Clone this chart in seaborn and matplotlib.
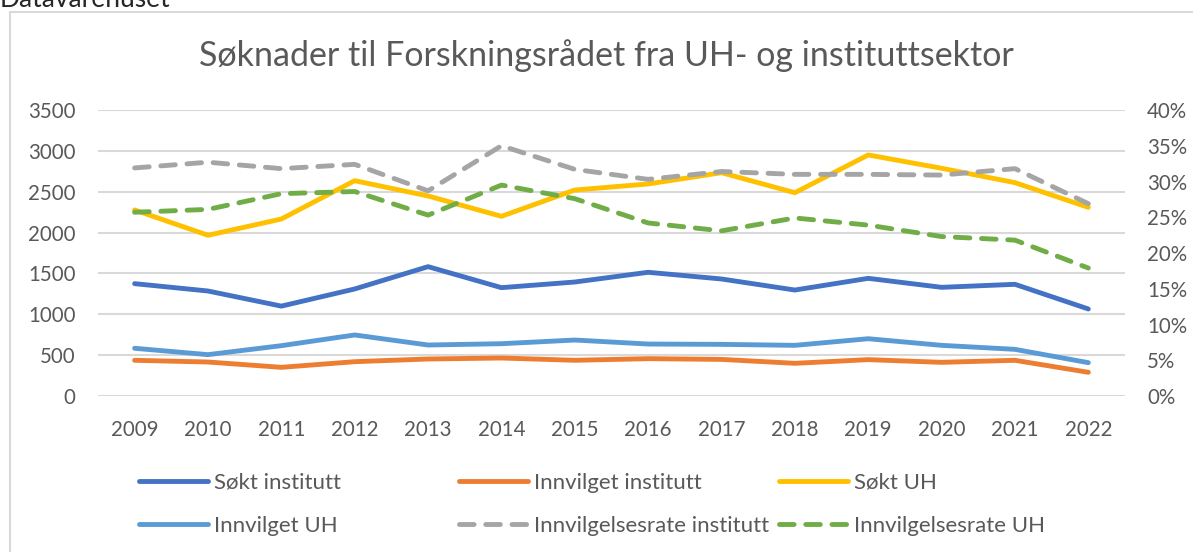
import matplotlib
matplotlib.use("Agg")
import matplotlib.pyplot as plt
import matplotlib.ticker as mticker
from matplotlib.lines import Line2D
import seaborn as sns

# Data lest av figuren
years = [2009, 2010, 2011, 2012, 2013, 2014, 2015, 2016, 2017, 2018, 2019, 2020, 2021, 2022]
sokt_institutt = [1375, 1285, 1100, 1310, 1583, 1326, 1395, 1514, 1432, 1297, 1440, 1330, 1367, 1065]
innvilget_institutt = [437, 416, 351, 420, 453, 465, 437, 457, 448, 400, 445, 412, 437, 290]
sokt_uh = [2277, 1967, 2166, 2635, 2448, 2199, 2521, 2595, 2733, 2488, 2950, 2787, 2611, 2309]
innvilget_uh = [584, 506, 616, 747, 624, 640, 685, 636, 632, 620, 701, 620, 571, 408]
rate_institutt = [0.319, 0.327, 0.318, 0.324, 0.287, 0.350, 0.317, 0.303, 0.314, 0.310, 0.310, 0.309, 0.318, 0.269]
rate_uh = [0.257, 0.261, 0.283, 0.286, 0.253, 0.295, 0.276, 0.242, 0.231, 0.249, 0.239, 0.223, 0.218, 0.179]

sns.set_style("white")
plt.rcParams['font.family'] = ['Lato', 'DejaVu Sans']
txt = '#595959'
grid = '#D9D9D9'
lw = 3.5
dash = (3.0, 2.4)

fig = plt.figure(figsize=(11.93, 5.52), dpi=100)
ax = fig.add_axes([0.0821, 0.2826, 0.8609, 0.5181])
ax2 = ax.twinx()

left_series = [
    ("Søkt institutt", sokt_institutt, '#4472C4'),
    ("Innvilget institutt", innvilget_institutt, '#ED7D31'),
    ("Søkt UH", sokt_uh, '#FFC000'),
    ("Innvilget UH", innvilget_uh, '#5B9BD5'),
]
right_series = [
    ("Innvilgelsesrate institutt", rate_institutt, '#A5A5A5'),
    ("Innvilgelsesrate UH", rate_uh, '#70AD47'),
]

handles = {}
for name, vals, col in left_series:
    sns.lineplot(x=years, y=vals, color=col, lw=lw, ax=ax, solid_capstyle='round')
    handles[name] = Line2D([], [], color=col, lw=lw, solid_capstyle='round')
for name, vals, col in right_series:
    sns.lineplot(x=years, y=vals, color=col, lw=lw, ax=ax2, dashes=dash, dash_capstyle='round')
    handles[name] = Line2D([], [], color=col, lw=lw, dashes=dash, dash_capstyle='round')

ax.set_xlim(2008.5, 2022.5)
ax.set_ylim(0, 3500)
ax.set_yticks(range(0, 3501, 500))
ax.set_xticks(years)
ax2.set_ylim(0, 0.4)
ax2.set_yticks([i * 0.05 for i in range(9)])
ax2.yaxis.set_major_formatter(mticker.FuncFormatter(lambda v, p: f"{v*100:.0f}%"))

ax.grid(axis='y', color=grid, lw=1.5)
ax.set_axisbelow(True)
for a in (ax, ax2):
    for s in a.spines.values():
        s.set_visible(False)
    a.set_xlabel("")
    a.set_ylabel("")
ax.tick_params(axis='y', length=0, pad=16, labelsize=14.8, labelcolor=txt)
ax.tick_params(axis='x', length=0, pad=17, labelsize=14.8, labelcolor=txt)
ax2.tick_params(axis='y', length=0, pad=16, labelsize=14.8, labelcolor=txt)

fig.text(606 / 1193, 1 - 56 / 552, "Søknader til Forskningsrådet fra UH- og instituttsektor",
         ha='center', va='center', fontsize=24.5, color=txt)
# overskrift over diagrammet, avkuttet i kanten som i originalen
fig.text(0.0, 1 - 7 / 552, "Datavarehuset", ha='left', va='baseline', fontsize=19, color='#262626')

# ramme rundt diagrammet
fig.add_artist(Line2D([10 / 1193, 10 / 1193], [0, 1 - 12 / 552], color=grid, lw=1.5))
fig.add_artist(Line2D([10 / 1193, 1], [1 - 12 / 552, 1 - 12 / 552], color=grid, lw=1.5))

cols = [["Søkt institutt", "Innvilget UH"],
        ["Innvilget institutt", "Innvilgelsesrate institutt"],
        ["Søkt UH", "Innvilgelsesrate UH"]]
for i, names in enumerate(cols):
    x0 = (130 + 320 * i) / 1193
    fig.legend([handles[n] for n in names], names, loc='upper left',
               bbox_to_anchor=(x0, 1 - 464 / 552), frameon=False, fontsize=16,
               labelcolor=txt, handlelength=3.1, handletextpad=0.3,
               labelspacing=1.05, borderaxespad=0)

fig.savefig("out.png", dpi=100)
